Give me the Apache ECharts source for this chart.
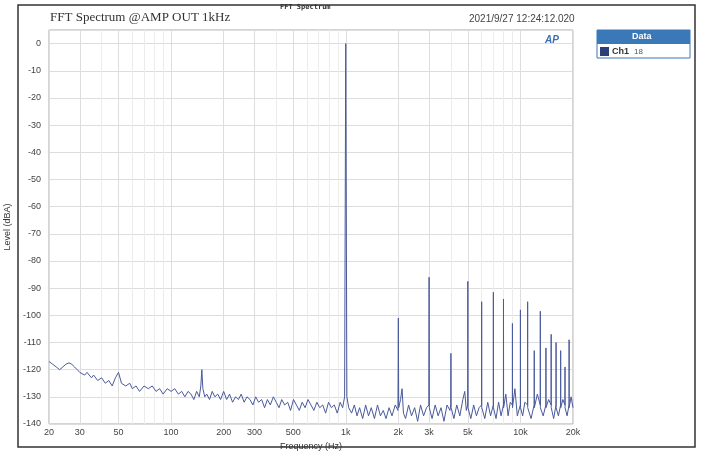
<!DOCTYPE html>
<html><head><meta charset="utf-8">
<script src="https://cdn.jsdelivr.net/npm/echarts@6/dist/echarts.min.js"></script>
<style>body{margin:0;background:#fff}#c{width:702px;height:459px}</style>
</head><body><div id="c"></div>
<script>
// frequency (Hz) and level (dBA) pairs
var spectrum = [
  [20,-117],[21,-118],[22,-119],[23,-120],[24,-119],[25,-118],[26,-117.5],[27,-118],[28,-119],[29,-120],
  [30,-121],[32,-122],[33,-121],[35,-123],[36,-122],[38,-124],[40,-123],[42,-125],[44,-124],[46,-126],
  [48,-123],[50,-121],[52,-125],[55,-126],[58,-125],[60,-127],[63,-126],[66,-128],[70,-126],[74,-127],
  [78,-126],[82,-128],[86,-127],[90,-129],[95,-127],[100,-128],[105,-127],[110,-129],[115,-128],[120,-130],
  [125,-128],[130,-129],[135,-131],[140,-128],[145,-130],[148,-126],[150,-120],[152,-127],[156,-130],[160,-129],
  [166,-131],[172,-128],[178,-130],[185,-129],[192,-131],[200,-128],[208,-131],[216,-129],[225,-132],[234,-130],
  [243,-131],[252,-129],[262,-132],[272,-130],[283,-131],[294,-133],[305,-130],[317,-132],[330,-131],[343,-134],
  [356,-131],[370,-133],[385,-130],[400,-132],[415,-134],[430,-131],[447,-133],[465,-132],[483,-135],[502,-131],
  [522,-133],[542,-135],[563,-132],[585,-134],[608,-131],[632,-133],[657,-135],[683,-132],[710,-134],[738,-133],
  [767,-136],[797,-132],[828,-134],[860,-133],[894,-136],[929,-132],[960,-134],[985,-130],[1000,0],[1015,-130],
  [1040,-134],[1080,-136],[1120,-133],[1160,-137],[1200,-134],[1250,-138],[1300,-133],[1350,-137],[1400,-134],[1460,-138],
  [1520,-133],[1580,-137],[1640,-135],[1700,-138],[1770,-134],[1840,-137],[1920,-133],[1990,-135],[2000,-101],[2010,-134],
  [2060,-131],[2100,-127],[2140,-136],[2200,-138],[2290,-133],[2380,-137],[2480,-134],[2580,-139],[2680,-133],[2790,-137],
  [2900,-134],[2990,-133],[3000,-86],[3010,-134],[3120,-138],[3250,-133],[3380,-137],[3510,-134],[3650,-139],[3800,-133],
  [3950,-135],[3990,-133],[4000,-114],[4010,-134],[4160,-138],[4320,-133],[4500,-137],[4680,-131],[4800,-128],[4900,-135],
  [4990,-133],[5000,-87.5],[5010,-134],[5200,-138],[5400,-133],[5600,-137],[5800,-134],[5990,-133],[6000,-95],[6010,-134],
  [6250,-138],[6500,-132],[6750,-137],[6990,-133],[7000,-91.5],[7010,-134],[7250,-138],[7500,-132],[7750,-137],[7990,-133],
  [8000,-94],[8010,-134],[8250,-129],[8500,-137],[8750,-132],[8990,-133],[9000,-103],[9010,-134],[9300,-127],[9600,-137],
  [9990,-133],[10000,-98],[10010,-134],[10300,-137],[10600,-132],[10990,-133],[11000,-95],[11010,-134],[11500,-138],[11990,-133],
  [12000,-113],[12010,-134],[12500,-129],[12990,-133],[13000,-98.5],[13010,-134],[13500,-137],[13990,-133],[14000,-112],[14010,-134],
  [14500,-131],[14990,-133],[15000,-107],[15010,-134],[15500,-138],[15990,-133],[16000,-110],[16010,-134],[16500,-137],[16990,-133],
  [17000,-113],[17010,-134],[17500,-131],[17990,-133],[18000,-119],[18010,-134],[18500,-137],[18990,-133],[19000,-109],[19010,-134],
  [19500,-130],[20000,-134]
];
var freqTicks = [20, 30, 50, 100, 200, 300, 500, 1000, 2000, 3000, 5000, 10000, 20000];
var tickLabels = ['20', '30', '50', '100', '200', '300', '500', '1k', '2k', '3k', '5k', '10k', '20k'];
var minorFreqs = [40, 60, 70, 80, 90, 400, 600, 700, 800, 900, 4000, 6000, 7000, 8000, 9000];

var gridLines = [];
freqTicks.forEach(function (f, i) {
  gridLines.push({ xAxis: f, label: { show: true, formatter: tickLabels[i] } });
});
minorFreqs.forEach(function (f) {
  gridLines.push({ xAxis: f, label: { show: false }, lineStyle: { color: '#ececec' } });
});

var myChart = echarts.init(document.getElementById('c'));
option = {
  backgroundColor: '#fff',
  animation: false,
  graphic: [
    { type: 'rect', shape: { x: 18, y: 5, width: 677, height: 442 }, style: { fill: 'none', stroke: '#333', lineWidth: 1.5 } },
    { type: 'text', left: 280, top: 4, style: { text: 'FFT Spectrum', font: 'bold 7px "DejaVu Sans Mono"', fill: '#333' } },
    { type: 'text', left: 50, top: 11, style: { text: 'FFT Spectrum @AMP OUT 1kHz', font: '13px "Liberation Serif"', fill: '#333' } },
    { type: 'text', left: 469, top: 14, style: { text: '2021/9/27 12:24:12.020', font: '10px "Liberation Sans"', fill: '#444' } },
    { type: 'text', left: 545, top: 35, style: { text: 'AP', font: 'italic bold 10px "Liberation Sans"', fill: '#3b6db5' } },
    { type: 'rect', shape: { x: 597, y: 30, width: 93, height: 28 }, style: { fill: '#fff', stroke: '#3a78b8' } },
    { type: 'rect', shape: { x: 597, y: 30, width: 93, height: 14 }, style: { fill: '#3a78b8' } },
    { type: 'text', left: 632, top: 32, style: { text: 'Data', font: 'bold 9px "Liberation Sans"', fill: '#fff' } },
    { type: 'rect', shape: { x: 600, y: 47, width: 9, height: 9 }, style: { fill: '#2b3f7a' } },
    { type: 'text', left: 612, top: 47, style: { text: 'Ch1', font: 'bold 9px "Liberation Sans"', fill: '#333' } },
    { type: 'text', left: 634, top: 48, style: { text: '18', font: '8px "Liberation Sans"', fill: '#555' } }
  ],
  grid: { left: 49, right: 129, top: 30, bottom: 35, show: true, borderColor: '#aaa', borderWidth: 1, outerBoundsMode: 'none', containLabel: false },
  xAxis: {
    type: 'log', logBase: 10, min: 20, max: 20000,
    name: 'Frequency (Hz)', nameLocation: 'middle', nameGap: 18,
    nameTextStyle: { fontSize: 9, color: '#333' },
    axisLine: { show: false }, axisTick: { show: false },
    axisLabel: { show: false }, splitLine: { show: false }
  },
  yAxis: {
    type: 'value', min: -140, max: 5, interval: 10,
    name: 'Level (dBA)', nameLocation: 'middle', nameGap: 26,
    nameTextStyle: { fontSize: 9, color: '#333' },
    axisLine: { show: false }, axisTick: { show: false },
    axisLabel: { fontSize: 9, color: '#444', showMaxLabel: false },
    splitLine: { lineStyle: { color: '#ddd' } }
  },
  series: [{
    type: 'line',
    data: spectrum,
    showSymbol: false,
    lineStyle: { color: '#4a5a9a', width: 1 },
    z: 5,
    markLine: {
      silent: true, symbol: 'none', animation: false,
      lineStyle: { color: '#ddd', type: 'solid', width: 1 },
      label: { position: 'start', distance: 4, fontSize: 9, color: '#444' },
      data: gridLines
    }
  }]
};
myChart.setOption(option);
</script>
</body></html>
